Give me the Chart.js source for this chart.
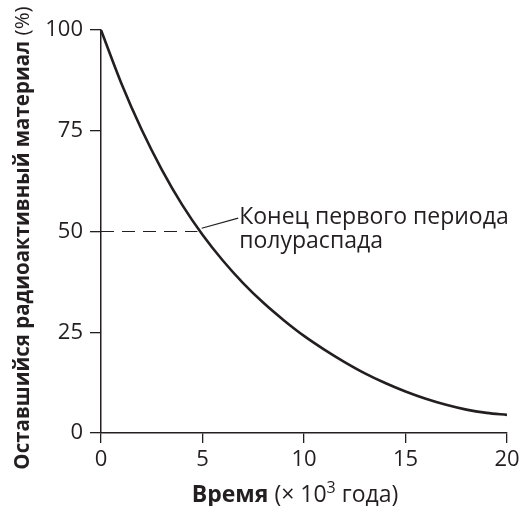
<!DOCTYPE html>
<html>
<head>
<meta charset="utf-8">
<script src="https://cdn.jsdelivr.net/npm/chart.js@4"></script>
<style>
  html, body { margin: 0; padding: 0; background: #fff; }
  #wrap { width: 524px; height: 506px; }
</style>
</head>
<body>
<div id="wrap"><canvas id="chart" width="524" height="506"></canvas></div>
<script>
// time, x10^3 years
var years = [0, 1, 2, 3, 4, 5, 6, 7, 8, 9, 10, 11, 12, 13, 14, 15, 16, 17, 18, 19, 20];
// remaining radioactive material, %
var remaining = [100, 86.8, 75.3, 65.3, 56.6, 49.2, 42.8, 37.2, 32.3, 28.0, 24.1, 20.7, 17.6, 14.8, 12.4, 10.3, 8.5, 7.0, 5.8, 5.0, 4.5];
var xTicks = [0, 5, 10, 15, 20];
var yTicks = [0, 25, 50, 75, 100];
// end of first half-life marker
var halfX = [0, 4.75];
var halfY = [50, 50];
var leaderX = [4.96, 6.76];
var leaderY = [50.8, 53.3];
var noteLines = ["Конец первого периода", "полураспада"];

var FONT = "'Open Sans', 'Noto Sans', sans-serif";

var curve = years.map(function (x, i) { return { x: x, y: remaining[i] }; });
var dashed = halfX.map(function (x, i) { return { x: x, y: halfY[i] }; });
var leader = leaderX.map(function (x, i) { return { x: x, y: leaderY[i] }; });

var textPlugin = {
    id: 'texts',
    afterDraw: function (chart) {
        var ctx = chart.ctx;
        var area = chart.chartArea;
        var xs = chart.scales.x, ys = chart.scales.y;
        ctx.save();
        ctx.fillStyle = '#231f20';
        ctx.textBaseline = 'alphabetic';

        // note next to the leader line
        ctx.font = '23px ' + FONT;
        ctx.textAlign = 'left';
        var nx = xs.getPixelForValue(leaderX[1]) + 1;
        var ny = ys.getPixelForValue(leaderY[1]) + 6;
        ctx.fillText(noteLines[0], nx, ny);
        ctx.fillText(noteLines[1], nx, ny + 24);

        // x title: bold part + normal part with superscript
        var parts = [
            { t: 'Время', f: 'bold 23px ' + FONT, dy: 0 },
            { t: ' (\u00d7 10', f: '23px ' + FONT, dy: 0 },
            { t: '3', f: '16px ' + FONT, dy: -9 },
            { t: ' года)', f: '23px ' + FONT, dy: 0 }
        ];
        var total = 0;
        parts.forEach(function (p) { ctx.font = p.f; p.w = ctx.measureText(p.t).width; total += p.w; });
        var cx = (area.left + area.right) / 2 - 9;
        var px = cx - total / 2;
        var by = area.bottom + 69;
        parts.forEach(function (p) {
            ctx.font = p.f;
            ctx.fillText(p.t, px, by + p.dy);
            px += p.w;
        });

        // y title, rotated
        var yparts = [
            { t: 'Оставшийся радиоактивный материал', f: 'bold 20.5px ' + FONT },
            { t: ' (%)', f: '20.5px ' + FONT }
        ];
        var ytotal = 0;
        yparts.forEach(function (p) { ctx.font = p.f; p.w = ctx.measureText(p.t).width; ytotal += p.w; });
        ctx.translate(29, 238);
        ctx.rotate(-Math.PI / 2);
        var qx = -ytotal / 2;
        yparts.forEach(function (p) {
            ctx.font = p.f;
            ctx.fillText(p.t, qx, 0);
            qx += p.w;
        });
        ctx.restore();
    }
};

new Chart(document.getElementById('chart'), {
    type: 'line',
    data: {
        datasets: [
            {
                data: curve,
                borderColor: '#231f20',
                borderWidth: 2.6,
                pointRadius: 0,
                cubicInterpolationMode: 'monotone',
                fill: false
            },
            {
                data: dashed,
                borderColor: '#231f20',
                borderWidth: 1.2,
                borderDash: [13, 8],
                pointRadius: 0,
                fill: false
            },
            {
                data: leader,
                borderColor: '#231f20',
                borderWidth: 1.2,
                pointRadius: 0,
                fill: false
            }
        ]
    },
    options: {
        responsive: false,
        animation: false,
        layout: { padding: { top: 30, right: 17, left: 0, bottom: 0 } },
        plugins: {
            legend: { display: false },
            tooltip: { enabled: false }
        },
        scales: {
            x: {
                type: 'linear',
                min: 0,
                max: 20,
                afterFit: function (s) { s.height = 73; },
                afterBuildTicks: function (s) { s.ticks = xTicks.map(function (v) { return { value: v }; }); },
                grid: { drawOnChartArea: false, tickLength: 10, color: '#231f20', lineWidth: 1.3 },
                border: { color: '#231f20', width: 1.5 },
                ticks: { color: '#231f20', font: { family: FONT, size: 22 }, padding: 4, maxRotation: 0 }
            },
            y: {
                min: 0,
                max: 100,
                afterFit: function (s) { s.width = 101; },
                afterBuildTicks: function (s) { s.ticks = yTicks.map(function (v) { return { value: v }; }); },
                grid: { drawOnChartArea: false, tickLength: 11, color: '#231f20', lineWidth: 1.3 },
                border: { color: '#231f20', width: 1.5 },
                ticks: { color: '#231f20', font: { family: FONT, size: 22 }, padding: 7 }
            }
        }
    },
    plugins: [textPlugin]
});
</script>
</body>
</html>
